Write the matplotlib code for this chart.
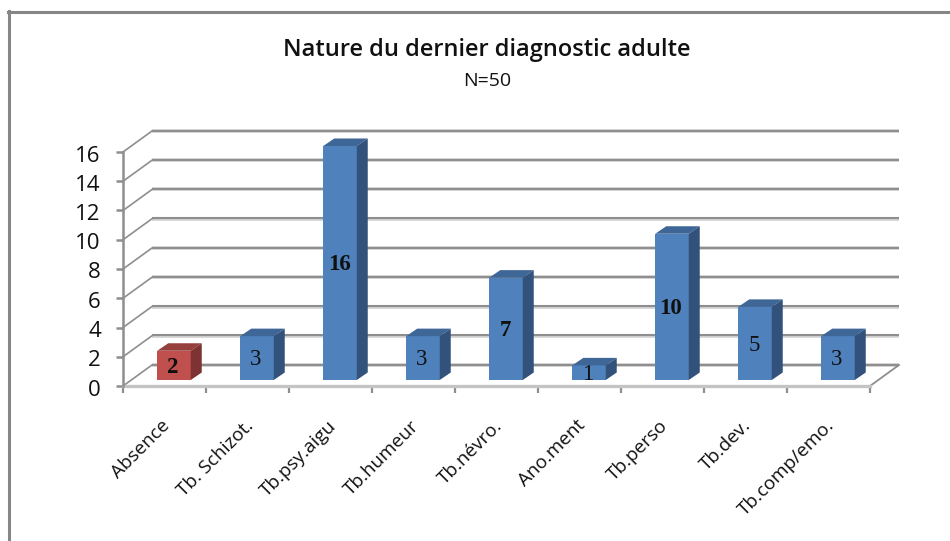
import matplotlib
matplotlib.use("Agg")
import matplotlib.pyplot as plt
from matplotlib.patches import Polygon
from matplotlib.transforms import ScaledTranslation

categories = ["Absence", "Tb. Schizot.", "Tb.psy.aigu", "Tb.humeur", "Tb.névro.",
              "Ano.ment", "Tb.perso", "Tb.dev.", "Tb.comp/emo."]
values = [2, 3, 16, 3, 7, 1, 10, 5, 3]
y_ticks = list(range(0, 17, 2))
title = "Nature du dernier diagnostic adulte"
subtitle = "N=50"

W, H = 950, 541
plt.rcParams["font.family"] = ["Open Sans", "DejaVu Sans"]
fig = plt.figure(figsize=(W / 100, H / 100), dpi=100, facecolor="white")

# front plane of the 3D box, in pixels
L, R, B, T = 123, 870, 386, 152
ax = fig.add_axes([L / W, 1 - B / H, (R - L) / W, (B - T) / H])
ax.set_xlim(0, len(categories))
ax.set_ylim(0, 16)
ax.patch.set_alpha(0)

ux = (R - L) / len(categories)   # px per category
uy = (B - T) / 16                # px per unit
wall_dx, wall_dy = 29 / ux, 21 / uy
bar_dx, bar_dy = 9.5 / ux, 6 / uy
depth_dx, depth_dy = 11 / ux, 7.5 / uy
bar_w = 33.5 / ux

GRID = "#8e8e8e"
FLOOR = "#c4c4c4"

# walls and floor
for v in y_ticks:
    ax.plot([wall_dx, len(categories) + wall_dx], [v + wall_dy] * 2, color="#d0d0d0",
            lw=2.6, clip_on=False, zorder=1, solid_capstyle="butt")
    ax.plot([wall_dx, len(categories) + wall_dx], [v + wall_dy + 0.03] * 2, color=GRID,
            lw=1.5, clip_on=False, zorder=1.1, solid_capstyle="butt")
    ax.plot([0, wall_dx], [v, v + wall_dy], color=GRID, lw=1.2, clip_on=False, zorder=1)
ax.plot([len(categories), len(categories) + wall_dx], [0, wall_dy], color=GRID, lw=1.3,
        clip_on=False, zorder=1)

# bars
faces = ["#c0504d"] + ["#4f81bd"] * (len(values) - 1)
tops = ["#95403d"] + ["#3e6696"] * (len(values) - 1)
sides = ["#7d3331"] + ["#32527c"] * (len(values) - 1)
for i, v in enumerate(values):
    x0 = i + 0.5 - bar_w / 2 + bar_dx
    x1 = x0 + bar_w
    y0 = bar_dy
    y1 = bar_dy + v
    ax.bar(x0, v, width=bar_w, bottom=y0, align="edge", color=faces[i], zorder=3, clip_on=False)
    ax.add_patch(Polygon([(x0, y1), (x1, y1), (x1 + depth_dx, y1 + depth_dy), (x0 + depth_dx, y1 + depth_dy)],
                         closed=True, color=tops[i], lw=0, zorder=3, clip_on=False))
    ax.add_patch(Polygon([(x1, y0), (x1, y1), (x1 + depth_dx, y1 + depth_dy), (x1 + depth_dx, y0 + depth_dy)],
                         closed=True, color=sides[i], lw=0, zorder=3, clip_on=False))
    ax.text((x0 + x1) / 2 - 1 / ux, y0 + v / 2 - 0.12, str(v), ha="center", va="center", fontsize=16.5,
            family="Liberation Serif", fontweight="bold" if v in (2, 16, 10, 7) else "normal",
            color="#101010", zorder=4, clip_on=False)

# axes
for s in ("top", "right"):
    ax.spines[s].set_visible(False)
ax.spines["left"].set_color(GRID)
ax.spines["left"].set_linewidth(1.8)
ax.spines["left"].set_zorder(5)
ax.spines["bottom"].set_color(FLOOR)
ax.spines["bottom"].set_linewidth(2.4)
ax.spines["bottom"].set_zorder(2)
ax.set_yticks(y_ticks)
ax.tick_params(axis="y", length=5, width=1.8, color=GRID, labelsize=16, labelcolor="#111111", pad=11)
shift = ScaledTranslation(0, -1.5 / 100, fig.dpi_scale_trans)
for lab in ax.get_yticklabels():
    lab.set_transform(lab.get_transform() + shift)
ax.set_xticks(range(len(categories) + 1))
ax.set_xticklabels([""] * (len(categories) + 1))
ax.tick_params(axis="x", length=5, width=1.6, color=GRID)
for i, c in enumerate(categories):
    ax.annotate(c, xy=(i + 0.62, 0), xycoords="data", xytext=(-7, -37), textcoords="offset pixels",
                rotation=45, rotation_mode="anchor", ha="right", va="center", fontsize=13.6,
                color="#111111", annotation_clip=False)

# titles
fig.text(487 / W, 1 - 50 / H, title, ha="center", va="center", fontsize=17, fontweight="semibold", color="#111111")
fig.text(487 / W, 1 - 81 / H, subtitle, ha="center", va="center", fontsize=14, color="#111111")

# outer chart border
fig.add_artist(plt.Line2D([9 / W, 9 / W], [0, 1 - 11 / H], color="#868686", lw=2.2))
fig.add_artist(plt.Line2D([8 / W, 1], [1 - 12 / H, 1 - 12 / H], color="#868686", lw=2.2))

fig.savefig("out.png", dpi=100)
